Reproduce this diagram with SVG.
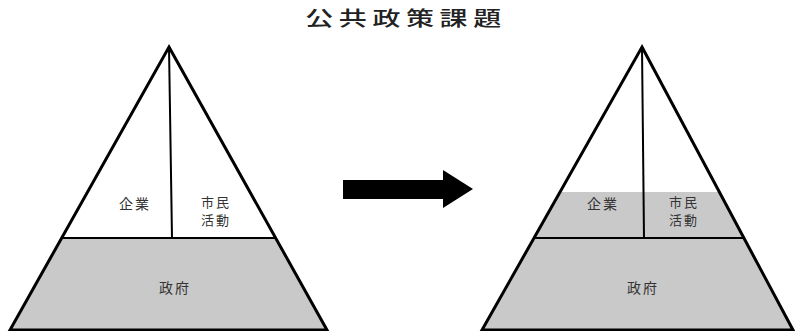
<svg xmlns="http://www.w3.org/2000/svg" width="795" height="331" viewBox="0 0 795 331">
<style>
.edge{fill:none;stroke:#000;stroke-width:3;stroke-linejoin:miter}
.div{fill:none;stroke:#000;stroke-width:2}
.gray{fill:#c9c9c9;stroke:none}
.lbl{font-family:"Noto Sans CJK JP","Noto Sans CJK SC",sans-serif;font-size:14px;fill:#333;text-anchor:middle;letter-spacing:2px}
.lbl2{font-family:"Noto Sans CJK JP","Noto Sans CJK SC",sans-serif;font-size:13px;fill:#333;text-anchor:middle;letter-spacing:2px}
.title{font-family:"Noto Sans CJK JP","Noto Sans CJK SC",sans-serif;font-size:20px;font-weight:500;fill:#222;text-anchor:middle}
</style>
<rect width="795" height="331" fill="#fff"/>
<text class="title" transform="translate(406,26) scale(1.4,1)" letter-spacing="4">公共政策課題</text>
<g id="pyramid-before">
<polygon class="gray" points="62,238 276,238 327,330 10,330"/>
<polygon class="edge" points="169,47 327,330 10,330"/>
<line class="div" x1="62" y1="238" x2="276" y2="238"/>
<line class="div" x1="169" y1="47" x2="172" y2="238"/>
<text class="lbl" x="135" y="209">企業</text>
<text class="lbl2" x="216" y="207">市民</text>
<text class="lbl2" x="216" y="225">活動</text>
<text class="lbl" x="175" y="293">政府</text>
</g>
<g id="pyramid-after">
<polygon class="gray" points="560,192 719,192 793,330 482,330"/>
<polygon class="edge" points="642,47 793,330 482,330"/>
<line class="div" x1="535" y1="238" x2="745" y2="238"/>
<line class="div" x1="642" y1="47" x2="644" y2="238"/>
<text class="lbl" x="603" y="209">企業</text>
<text class="lbl2" x="684" y="207">市民</text>
<text class="lbl2" x="684" y="225">活動</text>
<text class="lbl" x="643" y="293">政府</text>
</g>
<g id="connectors">
<polygon fill="#000" points="343,180 443,180 443,170 473,189 443,208 443,199 343,199"/>
</g>
</svg>
